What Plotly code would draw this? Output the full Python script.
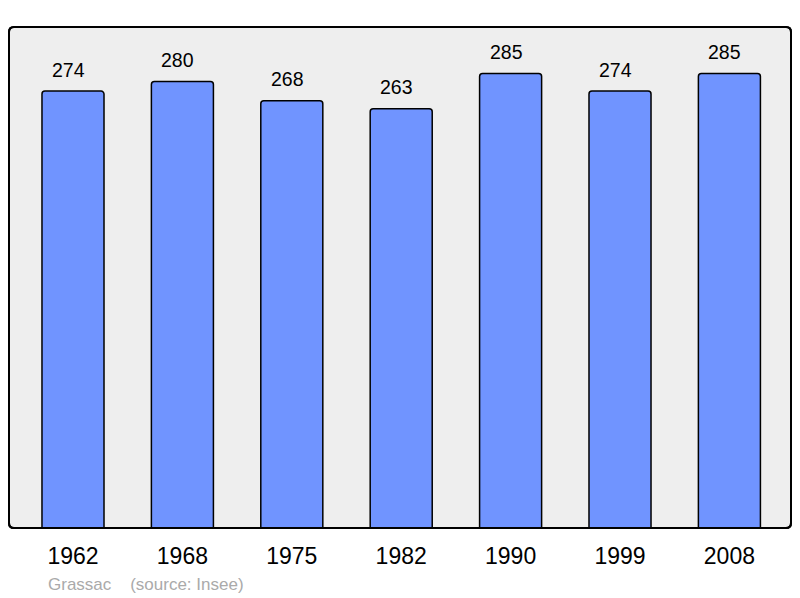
import plotly.graph_objects as go

years = ["1962", "1968", "1975", "1982", "1990", "1999", "2008"]
population = [274, 280, 268, 263, 285, 274, 285]
commune = "Grassac"
source = "(source: Insee)"

# page has an 8px body margin, so the figure is drawn 8px in from the window corner
OFF = 8
W, H = 800 - OFF, 598 - OFF
ml, mt = 9 - OFF, 27 - OFF
mr = W - (791 - OFF)
mb = H - (528 - OFF)
pw, ph = W - ml - mr, H - mt - mb

FONT = "Liberation Sans, Arial, sans-serif"

fig = go.Figure()
fig.add_trace(go.Bar(
    x=list(range(len(years))), y=population, width=0.567,
    marker=dict(color="#7094ff", line=dict(color="#000000", width=1.5), cornerradius=3),
    hoverinfo="skip",
))

for i, v in enumerate(population):
    fig.add_annotation(x=i, y=v, text=str(v), showarrow=False, yanchor="middle",
                       yshift=21.5, xshift=-4.5,
                       font=dict(size=19.5, color="#000000", family=FONT))

# rounded frame
r = 5
rx, ry = r / pw, r / ph
path = (f"M {rx},0 L {1-rx},0 Q 1,0 1,{ry} L 1,{1-ry} Q 1,1 {1-rx},1 "
        f"L {rx},1 Q 0,1 0,{1-ry} L 0,{ry} Q 0,0 {rx},0 Z")
fig.add_shape(type="path", path=path, xref="paper", yref="paper",
              fillcolor="#eeeeee", line=dict(color="#000000", width=2), layer="below")
fig.add_shape(type="path", path=path, xref="paper", yref="paper",
              fillcolor="rgba(0,0,0,0)", line=dict(color="#000000", width=2), layer="above")

src_x, src_y = 46 - OFF, 584 - OFF
fig.add_annotation(x=(src_x - ml) / pw, y=(H - mb - src_y) / ph, xref="paper", yref="paper",
                   text=commune + "&nbsp;&nbsp;&nbsp;&nbsp;" + source,
                   showarrow=False, xanchor="left", yanchor="middle",
                   font=dict(size=17, color="#aaaaaa", family=FONT))

fig.update_layout(
    width=W, height=H,
    margin=dict(l=ml, r=mr, t=mt, b=mb),
    paper_bgcolor="#ffffff", plot_bgcolor="rgba(0,0,0,0)",
    showlegend=False,
    font=dict(family=FONT, color="#000000"),
    xaxis=dict(range=[-0.585, 6.563], tickmode="array", tickvals=list(range(len(years))),
               ticktext=years, showgrid=False, zeroline=False, showline=False, ticks="",
               tickfont=dict(size=23), ticklabelstandoff=12, fixedrange=True),
    yaxis=dict(range=[0, 314.2], visible=False, showgrid=False, zeroline=False, fixedrange=True),
)

fig.write_html("out.html")
